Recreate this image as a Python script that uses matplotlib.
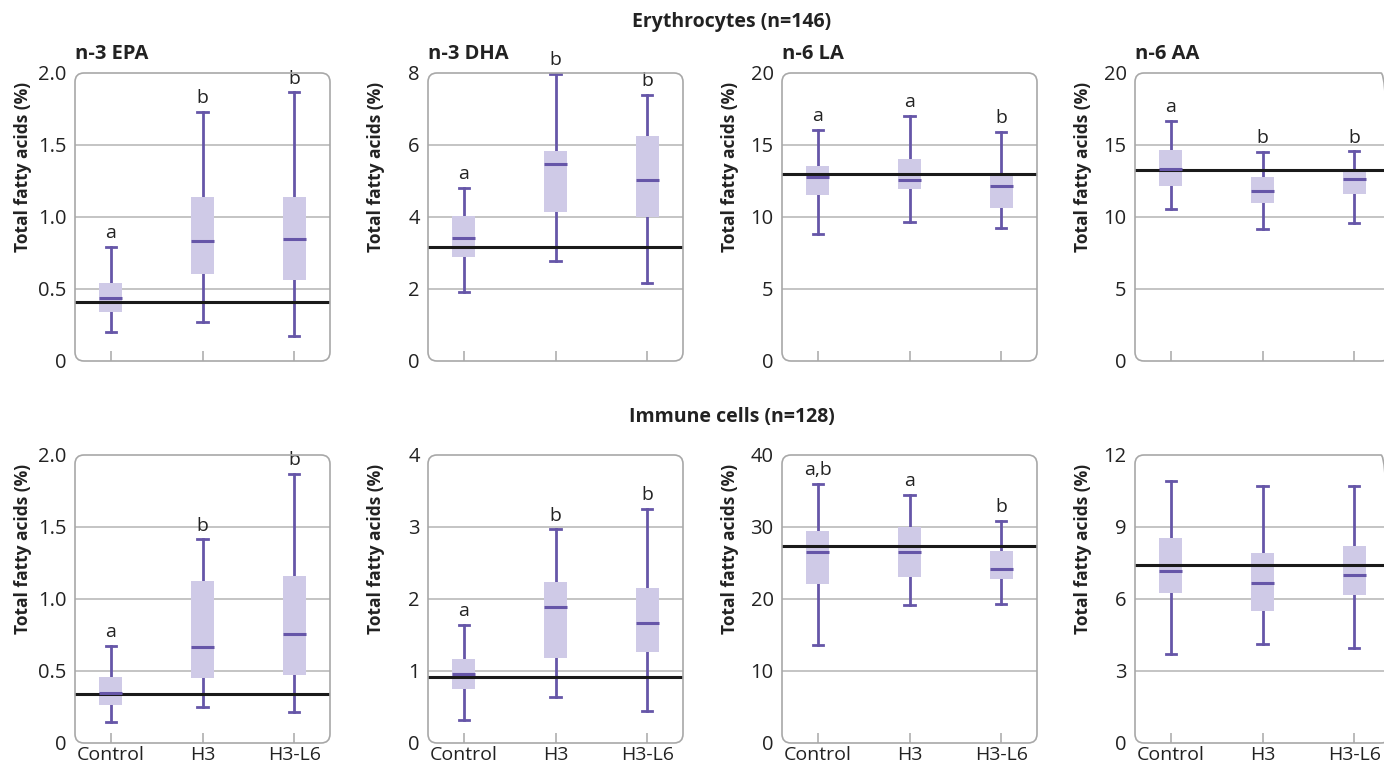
import numpy as np
import matplotlib
matplotlib.use("Agg")
import matplotlib.pyplot as plt
from matplotlib.patches import FancyBboxPatch
from matplotlib.transforms import IdentityTransform

plt.rcParams['font.family'] = ['Open Sans', 'DejaVu Sans']

groups = ['Control', 'H3', 'H3-L6']
panel_titles = ['n-3 EPA', 'n-3 DHA', 'n-6 LA', 'n-6 AA']
row_titles = ['Erythrocytes (n=146)', 'Immune cells (n=128)']

# each stat list: [whisker low, Q1, median, Q3, whisker high] per group
ery_epa = [[0.20, 0.34, 0.44, 0.545, 0.79], [0.27, 0.605, 0.83, 1.14, 1.73], [0.175, 0.56, 0.845, 1.14, 1.865]]
ery_dha = [[1.93, 2.90, 3.43, 4.04, 4.80], [2.77, 4.15, 5.46, 5.82, 7.98], [2.17, 3.99, 5.02, 6.24, 7.38]]
ery_la = [[8.82, 11.52, 12.78, 13.57, 16.04], [9.64, 11.94, 12.6, 14.02, 17.04], [9.24, 10.62, 12.15, 12.83, 15.93]]
ery_aa = [[10.59, 12.15, 13.36, 14.62, 16.67], [9.2, 10.97, 11.83, 12.76, 14.53], [9.55, 11.6, 12.67, 13.22, 14.55]]
imm_epa = [[0.144, 0.265, 0.347, 0.456, 0.672], [0.251, 0.453, 0.665, 1.126, 1.414], [0.214, 0.474, 0.758, 1.16, 1.87]]
imm_dha = [[0.316, 0.744, 0.958, 1.163, 1.637], [0.637, 1.186, 1.888, 2.237, 2.967], [0.447, 1.26, 1.665, 2.158, 3.247]]
imm_la = [[13.58, 22.05, 26.47, 29.4, 35.95], [19.2, 23.07, 26.47, 30.05, 34.5], [19.35, 22.79, 24.23, 26.7, 30.84]]
imm_aa = [[3.70, 6.24, 7.17, 8.55, 10.91], [4.14, 5.48, 6.66, 7.93, 10.69], [3.96, 6.15, 7.0, 8.22, 10.69]]

ref_lines = [[0.41, 3.18, 13.0, 13.27], [0.337, 0.916, 27.4, 7.42]]
y_max = [[2.0, 8, 20, 20], [2.0, 4, 40, 12]]
y_ticks = [[[0, 0.5, 1.0, 1.5, 2.0], [0, 2, 4, 6, 8], [0, 5, 10, 15, 20], [0, 5, 10, 15, 20]],
           [[0, 0.5, 1.0, 1.5, 2.0], [0, 1, 2, 3, 4], [0, 10, 20, 30, 40], [0, 3, 6, 9, 12]]]
y_ticklabels = [[['0', '0.5', '1.0', '1.5', '2.0'], ['0', '2', '4', '6', '8'], ['0', '5', '10', '15', '20'], ['0', '5', '10', '15', '20']],
                [['0', '0.5', '1.0', '1.5', '2.0'], ['0', '1', '2', '3', '4'], ['0', '10', '20', '30', '40'], ['0', '3', '6', '9', '12']]]
letters = [[['a', 'b', 'b'], ['a', 'b', 'b'], ['a', 'a', 'b'], ['a', 'b', 'b']],
           [['a', 'b', 'b'], ['a', 'b', 'b'], ['a,b', 'a', 'b'], ['', '', '']]]
data = [[ery_epa, ery_dha, ery_la, ery_aa], [imm_epa, imm_dha, imm_la, imm_aa]]

W, H = 1384, 765
fig = plt.figure(figsize=(W / 100, H / 100), dpi=100)

purple = '#6656a8'
lavender = '#cfcae7'
gray = '#a8a8a8'
grid_c = '#b4b4b4'
txt = '#222222'

col_left = [75, 428, 782, 1135]
row_top = [73, 455]
ax_w, ax_h = 255, 288

for r in range(2):
    for c in range(4):
        left = col_left[c] / W
        bottom = (H - row_top[r] - ax_h) / H
        ax = fig.add_axes([left, bottom, ax_w / W, ax_h / H])
        ax.set_xlim(-0.39, 2.39)
        ax.set_ylim(0, y_max[r][c])
        for s in ax.spines.values():
            s.set_visible(False)
        ax.patch.set_visible(False)

        for t in y_ticks[r][c][1:-1]:
            ax.axhline(t, color=grid_c, lw=1.1, zorder=0)

        stats = []
        for g, v in zip(groups, data[r][c]):
            stats.append(dict(whislo=v[0], q1=v[1], med=v[2], q3=v[3], whishi=v[4], label=g))
        ax.bxp(stats, positions=[0, 1, 2], widths=0.25, capwidths=0.11, patch_artist=True,
               showfliers=False, manage_ticks=False,
               boxprops=dict(facecolor=lavender, edgecolor='none', zorder=2),
               whiskerprops=dict(color=purple, lw=2, zorder=1),
               capprops=dict(color=purple, lw=2, zorder=1),
               medianprops=dict(color=purple, lw=2.2, zorder=4, solid_capstyle='butt'))
        ax.axhline(ref_lines[r][c], color='#1a1a1a', lw=2.2, zorder=3)

        for i, lab in enumerate(letters[r][c]):
            if lab:
                ax.annotate(lab, (i, data[r][c][i][4]), xytext=(0, 3.5), textcoords='offset points',
                            ha='center', va='bottom', fontsize=14, color=txt)

        ax.set_yticks(y_ticks[r][c])
        ax.set_yticklabels(y_ticklabels[r][c])
        ax.tick_params(axis='y', length=0, pad=6, labelsize=14.5, labelcolor=txt)
        ax.set_xticks([0, 1, 2])
        if r == 1:
            ax.set_xticklabels(groups)
        else:
            ax.set_xticklabels([])
        ax.tick_params(axis='x', direction='in', length=7, width=1.1, color=gray,
                       pad=2, labelsize=14, labelcolor=txt)
        ax.set_ylabel('Total fatty acids (%)', fontsize=12.5, fontweight='bold', color=txt)
        ax.yaxis.set_label_coords(-0.17, 0.675)
        if r == 0:
            ax.text(0, 1.03, panel_titles[c], transform=ax.transAxes, ha='left', va='bottom',
                    fontsize=14.5, fontweight='bold', color=txt)

        # rounded frame in pixel coords
        x0 = col_left[c]
        y0 = H - row_top[r] - ax_h
        frame = FancyBboxPatch((x0, y0), ax_w, ax_h, boxstyle='round,pad=0,rounding_size=9',
                               transform=IdentityTransform(), fill=False, ec=gray, lw=1.2,
                               clip_on=False, zorder=5)
        fig.patches.append(frame)

fig.text(732 / W, 1 - 22 / H, row_titles[0], ha='center', va='center', fontsize=14,
         fontweight='bold', color=txt)
fig.text(732 / W, 1 - 417 / H, row_titles[1], ha='center', va='center', fontsize=14,
         fontweight='bold', color=txt)

fig.savefig('out.png', dpi=100)
